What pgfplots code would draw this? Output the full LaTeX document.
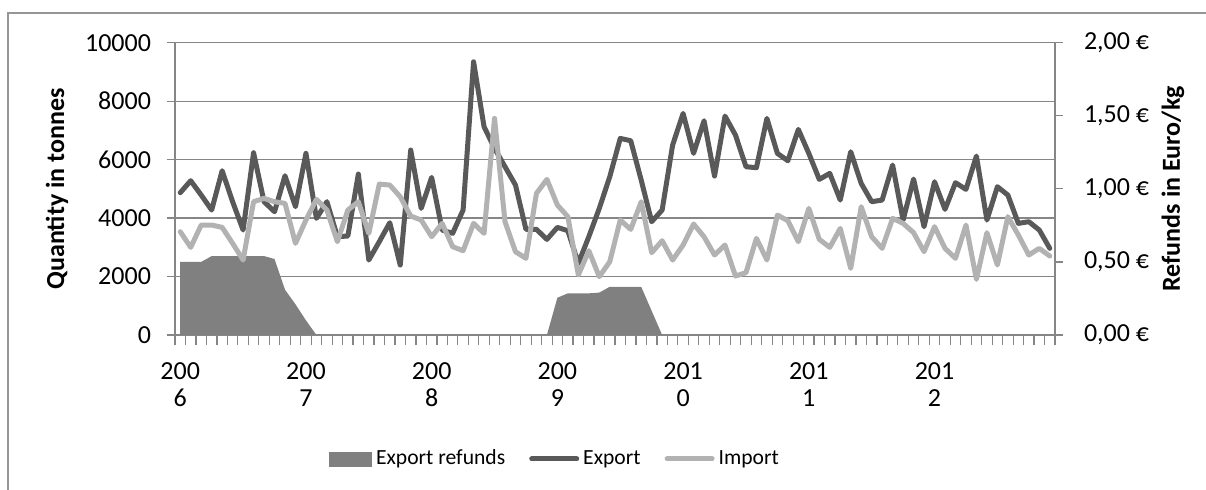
\documentclass[border=0pt]{standalone}
\usepackage{fontspec}
\setmainfont{Carlito}
\usepackage{pgfplots}
\usepackage{pgfplotstable}
\pgfplotsset{compat=1.18}
\definecolor{expc}{RGB}{89,89,89}
\definecolor{impc}{RGB}{178,178,178}
\definecolor{refc}{RGB}{128,128,128}
\definecolor{gridc}{RGB}{134,134,134}
\definecolor{brdc}{RGB}{150,150,150}
\pgfplotstableread{
i exp imp ref
0 4868 3534 0.50
1 5278 2998 0.50
2 4788 3762 0.50
3 4275 3762 0.54
4 5620 3682 0.54
5 4560 3135 0.54
6 3591 2565 0.54
7 6236 4560 0.54
8 4560 4674 0.54
9 4218 4560 0.52
10 5449 4503 0.31
11 4389 3135 0.21
12 6213 3933 0.10
13 3990 4640 0
14 4560 4275 0
15 3363 3192 0
16 3386 4275 0
17 5506 4560 0
18 2565 3477 0
19 3192 5164 0
20 3842 5130 0
21 2394 4731 0
22 6327 4070 0
23 4332 3933 0
24 5392 3363 0
25 3591 3819 0
26 3477 3021 0
27 4275 2884 0
28 9348 3819 0
29 7125 3477 0
30 6384 7410 0
31 5757 3876 0
32 5130 2850 0
33 3614 2622 0
34 3614 4845 0
35 3272 5324 0
36 3682 4446 0.255
37 3568 4047 0.285
38 2451 2052 0.285
39 3363 2884 0.285
40 4332 1995 0.29
41 5415 2508 0.33
42 6726 3933 0.33
43 6646 3614 0.33
44 5301 4560 0.33
45 3876 2816 0.165
46 4275 3226 0
47 6498 2565 0
48 7581 3078 0
49 6213 3796 0
50 7330 3363 0
51 5438 2736 0
52 7490 3078 0
53 6840 2018 0
54 5757 2132 0
55 5723 3306 0
56 7410 2565 0
57 6213 4104 0
58 5962 3910 0
59 7034 3192 0
60 6213 4332 0
61 5324 3272 0
62 5529 2998 0
63 4617 3648 0
64 6270 2280 0
65 5187 4389 0
66 4560 3363 0
67 4617 2964 0
68 5814 3990 0
69 3933 3819 0
70 5335 3500 0
71 3705 2850 0
72 5244 3705 0
73 4298 2964 0
74 5210 2622 0
75 4982 3762 0
76 6122 1904 0
77 3933 3500 0
78 5073 2394 0
79 4788 4047 0
80 3819 3420 0
81 3876 2736 0
82 3591 2964 0
83 2964 2702 0
}\data
\begin{document}
\begin{tikzpicture}
\path[use as bounding box] (0,0) rectangle (603bp,245bp);
\draw[brdc, line width=0.6bp] (4bp,0) -- (4bp,238.5bp) -- (603bp,238.5bp);
% left axis with grid
\begin{axis}[
  at={(87.5bp,77.5bp)}, anchor=south west,
  scale only axis, width=440bp, height=146.15bp,
  xmin=-0.5, xmax=83.5, ymin=0, ymax=10000,
  scaled y ticks=false,
  axis x line*=bottom, axis y line*=left,
  axis line style={gridc, line width=0.6bp, -},
  ymajorgrids, grid style={gridc, line width=0.6bp},
  tick align=outside, major tick length=4bp, minor tick length=5bp,
  tick style={gridc, line width=0.6bp},
  ytick={0,2000,4000,6000,8000,10000},
  yticklabels={0,2000,4000,6000,8000,10000},
  yticklabel style={font=\fontsize{13bp}{14bp}\selectfont, xshift=-4.5bp},
  xtick={0,12,24,36,48,60,72},
  xticklabels={{200\\6},{200\\7},{200\\8},{200\\9},{201\\0},{201\\1},{201\\2}},
  xticklabel style={align=center, font=\fontsize{13bp}{13.5bp}\selectfont, yshift=-6.5bp},
  major x tick style={draw=none},
  minor xtick={-0.5,0.5,...,83.5},
  ylabel={\bfseries Quantity in tonnes},
  ylabel style={at={(axis description cs:-0.134,0.5)}, anchor=center, font=\fontsize{13bp}{15bp}\selectfont},
]
\end{axis}
% right axis with refunds area
\begin{axis}[
  at={(87.5bp,77.5bp)}, anchor=south west,
  scale only axis, width=440bp, height=146.15bp,
  xmin=-0.5, xmax=83.5, ymin=0, ymax=2,
  axis x line=none, axis y line*=right,
  axis line style={gridc, line width=0.6bp, -},
  tick align=outside, major tick length=4bp,
  tick style={gridc, line width=0.6bp},
  ytick={0,0.5,1,1.5,2},
  yticklabels={{0,00 €},{0,50 €},{1,00 €},{1,50 €},{2,00 €}},
  yticklabel style={font=\fontsize{13bp}{14bp}\selectfont, xshift=7bp},
  ylabel={\bfseries Refunds in Euro/kg},
  ylabel style={at={(axis description cs:1.134,0.5)}, anchor=center, font=\fontsize{13bp}{15bp}\selectfont},
]
\addplot[fill=refc, draw=none] table[x=i, y=ref] {\data} \closedcycle;
\end{axis}
% lines
\begin{axis}[
  at={(87.5bp,77.5bp)}, anchor=south west,
  scale only axis, width=440bp, height=146.15bp,
  xmin=-0.5, xmax=83.5, ymin=0, ymax=10000,
  hide axis,
  legend columns=3,
  legend style={at={(axis description cs:0.433,-0.424)}, anchor=center, draw=none, fill=none,
    font=\fontsize{10.8bp}{13bp}\selectfont,
    /tikz/every even column/.append style={column sep=10bp}},
  legend image code/.code={\draw[#1] (0bp,0bp) -- (22.5bp,0bp);},
]
\addlegendimage{legend image code/.code={\fill[refc] (0bp,-3.5bp) rectangle (21bp,3.5bp);}}
\addlegendentry{Export refunds}
\addplot[expc, line width=2.5bp, line join=round, line cap=round] table[x=i, y=exp] {\data};
\addlegendentry{Export}
\addplot[impc, line width=2.5bp, line join=round, line cap=round] table[x=i, y=imp] {\data};
\addlegendentry{Import}
\end{axis}
\end{tikzpicture}
\end{document}
